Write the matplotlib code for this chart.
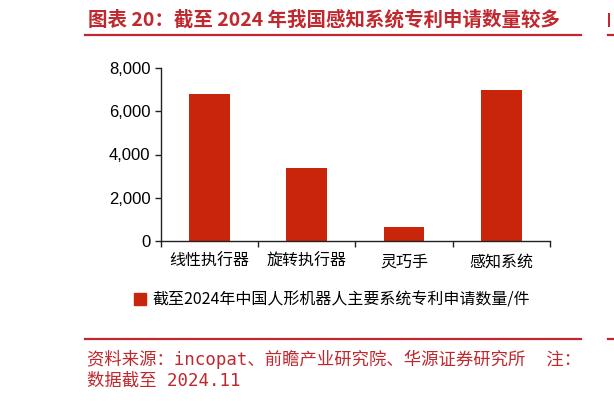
import matplotlib
matplotlib.use('Agg')
import matplotlib.pyplot as plt
from matplotlib.patches import Patch, Rectangle
from matplotlib.lines import Line2D
from matplotlib.ticker import FuncFormatter

categories = ['线性执行器', '旋转执行器', '灵巧手', '感知系统']
values = [6820, 3360, 650, 7000]
yticks = [0, 2000, 4000, 6000, 8000]

title = '图表 20：截至 2024 年我国感知系统专利申请数量较多'
legend_label = '截至2024年中国人形机器人主要系统专利申请数量/件'
source1 = '资料来源：incopat、前瞻产业研究院、华源证券研究所  注：'
source2 = '数据截至 2024.11'

red = '#C0282E'
bar_red = '#C9250B'
cjk = ['Noto Sans CJK SC', 'DejaVu Sans']
mono = ['DejaVu Sans Mono', 'Noto Sans CJK SC']

plt.rcParams['font.family'] = cjk

fig = plt.figure(figsize=(6.14, 4.01), dpi=100)
W, H = 614, 401

ax = fig.add_axes([160.7 / W, 1 - 240.7 / H, (550 - 160.7) / W, (240.7 - 68.3) / H])
ax.bar(range(len(categories)), values, width=0.42, color=bar_red)
ax.set_xlim(-0.5, len(categories) - 0.5)
ax.set_ylim(0, 8000)
ax.set_yticks(yticks)
ax.yaxis.set_major_formatter(FuncFormatter(lambda v, p: '{:,.0f}'.format(v)))
for lab in ax.get_yticklabels():
    lab.set_family(['Liberation Sans'])
    lab.set_fontsize(12)
ax.set_xticks(range(len(categories)))
ax.set_xticklabels(categories, fontsize=11.5)
ax.tick_params(axis='x', which='major', length=0, pad=9)
ax.set_xticks([i - 0.5 for i in range(len(categories) + 1)], minor=True)
ax.tick_params(axis='x', which='minor', length=4.5, width=1, direction='out', color='#222222')
ax.tick_params(axis='y', length=4.5, width=1, direction='out', color='#222222', pad=3)
for s in ['top', 'right']:
    ax.spines[s].set_visible(False)
for s in ['left', 'bottom']:
    ax.spines[s].set_linewidth(1)
    ax.spines[s].set_color('#222222')

fig.legend(handles=[Patch(color=bar_red)], labels=[legend_label], loc='center',
           bbox_to_anchor=(332 / W, 1 - 300 / H), frameon=False, fontsize=11.5,
           handlelength=0.75, handleheight=0.75, handletextpad=0.4)

fig.text(88 / W, 1 - 20 / H, title, color=red, fontsize=14, fontweight='bold',
         ha='left', va='center')
for y in [34.7, 339]:
    fig.add_artist(Line2D([85 / W, 581 / W], [1 - y / H] * 2, color=red, lw=1.6))
    fig.add_artist(Line2D([608 / W, 1], [1 - y / H] * 2, color=red, lw=1.6))
fig.add_artist(Rectangle((608 / W, 1 - 27 / H), 2 / W, 14 / H, color=red, lw=0))

fig.text(87 / W, 1 - 359 / H, source1, color=red, fontsize=12.5, family=mono,
         ha='left', va='center')
fig.text(87 / W, 1 - 381 / H, source2, color=red, fontsize=12.5, family=mono,
         ha='left', va='center')

fig.savefig('out.png', dpi=100)
